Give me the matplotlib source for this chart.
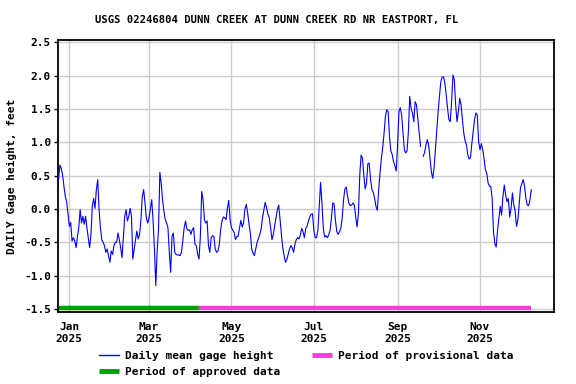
import numpy as np
import pandas as pd
import matplotlib
matplotlib.use("Agg")
import matplotlib.pyplot as plt
from matplotlib.lines import Line2D

# Daily mean gage height (feet), one value per day starting 2024-12-24
start_date = "2024-12-24"
gage_height = [
    # Dec 24 - Feb 21
    0.44, 0.66, 0.61, 0.51, 0.34, 0.19, 0.11, -0.08, -0.26, -0.20,
    -0.48, -0.43, -0.48, -0.58, -0.41, -0.28, -0.01, -0.21, -0.11, -0.23,
    -0.11, -0.28, -0.43, -0.58, -0.38, 0.04, 0.16, 0.01, 0.29, 0.44,
    -0.01, -0.28, -0.46, -0.50, -0.55, -0.65, -0.60, -0.70, -0.80, -0.63,
    -0.68, -0.55, -0.50, -0.50, -0.36, -0.46, -0.58, -0.73, -0.41, -0.11,
    -0.01, -0.18, -0.11, 0.01, -0.11, -0.75, -0.60, -0.46, -0.33, -0.45,
    # Feb 22 - Apr 21
    -0.38, -0.16, 0.19, 0.29, 0.09, -0.13, -0.21, -0.13, 0.01, 0.14,
    -0.18, -0.60, -1.15, -0.63, -0.31, 0.55, 0.39, 0.14, -0.03, -0.16,
    -0.21, -0.28, -0.65, -0.95, -0.41, -0.36, -0.65, -0.68, -0.69, -0.69,
    -0.70, -0.65, -0.48, -0.28, -0.18, -0.30, -0.32, -0.31, -0.38, -0.31,
    -0.28, -0.53, -0.55, -0.68, -0.75, -0.41, 0.26, 0.14, -0.16, -0.21,
    -0.18, -0.55, -0.65, -0.43, -0.40, -0.41, -0.60, -0.65, -0.63,
    # Apr 22 - Jun 20
    -0.53, -0.31, -0.18, -0.12, -0.13, -0.16, 0.01, 0.13, -0.16, -0.28,
    -0.32, -0.35, -0.46, -0.41, -0.41, -0.28, -0.17, -0.27, -0.21, 0.00,
    0.07, -0.06, -0.22, -0.36, -0.60, -0.66, -0.70, -0.60, -0.50, -0.44,
    -0.38, -0.30, -0.13, -0.01, 0.10, 0.02, -0.08, -0.13, -0.28, -0.46,
    -0.38, -0.25, -0.13, -0.01, 0.06, -0.16, -0.38, -0.58, -0.70, -0.80,
    -0.76, -0.68, -0.60, -0.55, -0.58, -0.65, -0.53, -0.46, -0.43, -0.45,
    # Jun 21 - Aug 19
    -0.39, -0.29, -0.34, -0.43, -0.29, -0.26, -0.18, -0.12, -0.08, -0.07,
    -0.32, -0.43, -0.43, -0.32, 0.04, 0.40, 0.09, -0.29, -0.42, -0.40,
    -0.43, -0.39, -0.32, -0.14, 0.09, 0.08, -0.17, -0.34, -0.38, -0.34,
    -0.29, -0.13, 0.14, 0.30, 0.33, 0.19, 0.08, 0.05, 0.06, 0.09,
    0.06, -0.12, -0.27, -0.07, 0.51, 0.81, 0.76, 0.51, 0.30, 0.39,
    0.68, 0.69, 0.44, 0.29, 0.25, 0.16, 0.04, -0.02, 0.29, 0.54,
    # Aug 20 - Oct 17
    0.76, 0.92, 1.14, 1.39, 1.49, 1.46, 1.09, 0.87, 0.82, 0.71,
    0.65, 0.57, 0.96, 1.46, 1.52, 1.41, 1.14, 0.89, 0.84, 0.87,
    1.16, 1.69, 1.51, 1.44, 1.31, 1.61, 1.56, 1.36, 1.14, 0.94,
    np.nan, 0.79, 0.85, 0.96, 1.04, 0.96, 0.76, 0.56, 0.46, 0.61,
    0.89, 1.16, 1.46, 1.69, 1.91, 1.98, 1.98, 1.89, 1.71, 1.51,
    1.34, 1.31, 1.61, 2.01, 1.94, 1.56, 1.31, 1.46, 1.66,
    # Oct 18 - Dec 9
    1.56, 1.34, 1.14, 1.02, 0.96, 0.81, 0.75, 0.77, 0.99, 1.16,
    1.35, 1.44, 1.41, 1.01, 0.89, 0.98, 0.89, 0.76, 0.59, 0.54,
    0.39, 0.34, 0.34, 0.16, -0.34, -0.52, -0.57, -0.32, -0.14, 0.04,
    -0.09, 0.19, 0.36, 0.21, 0.11, 0.16, -0.12, 0.01, 0.24, 0.06,
    -0.02, -0.26, -0.17, 0.06, 0.32, 0.38, 0.44, 0.34, 0.16, 0.06,
    0.05, 0.14, 0.29,
]

approved_period = ["2024-12-24", "2025-04-07"]
provisional_period = ["2025-04-07", "2025-12-09"]
period_bar_level = -1.49

month_ticks = ["2025-01-01", "2025-03-01", "2025-05-01",
               "2025-07-01", "2025-09-01", "2025-11-01"]
month_labels = ["Jan\n2025", "Mar\n2025", "May\n2025",
                "Jul\n2025", "Sep\n2025", "Nov\n2025"]
y_ticks = [2.5, 2.0, 1.5, 1.0, 0.5, 0.0, -0.5, -1.0, -1.5]

title = "USGS 02246804 DUNN CREEK AT DUNN CREEK RD NR EASTPORT, FL"

plt.rcParams["font.family"] = "DejaVu Sans Mono"
plt.rcParams["font.weight"] = "bold"
plt.rcParams["axes.unicode_minus"] = False

dates = pd.date_range(start_date, periods=len(gage_height), freq="D")

fig = plt.figure(figsize=(5.76, 3.84), dpi=100)
ax = fig.add_axes([58 / 576, 1 - 312 / 384, 496 / 576, 272 / 384])

line_col = "#0000ff"
green = "#00a000"
pink = "#f040d8"

ax.plot(dates, gage_height, color=line_col, lw=0.8, zorder=3)
ax.plot(pd.to_datetime(approved_period), [period_bar_level] * 2,
        color=green, lw=3.2, solid_capstyle="butt", zorder=4)
ax.plot(pd.to_datetime(provisional_period), [period_bar_level] * 2,
        color=pink, lw=3.2, solid_capstyle="butt", zorder=4)

jan1 = pd.Timestamp("2025-01-01")
ax.set_xlim(jan1 - pd.Timedelta(days=8.4), jan1 + pd.Timedelta(days=358.8))
ax.set_ylim(-1.545, 2.535)

ax.set_xticks(pd.to_datetime(month_ticks))
ax.set_xticklabels(month_labels, fontsize=8, fontweight="bold", linespacing=1.3)
ax.set_yticks(y_ticks)
ax.set_yticklabels([f"{v:.1f}" for v in y_ticks], fontsize=8, fontweight="bold")
ax.tick_params(axis="x", length=0, pad=7)
ax.tick_params(axis="y", length=3, width=1, pad=2)

ax.grid(True, color="#cccccc", lw=1)
ax.set_axisbelow(True)
for s in ax.spines.values():
    s.set_linewidth(1.3)

ax.set_ylabel("DAILY Gage height, feet", fontsize=8, fontweight="bold", labelpad=5)

fig.text(277 / 576, 1 - 20 / 384, title, ha="center", va="center",
         fontsize=7.6, fontweight="bold")

handles = [
    Line2D([], [], color=line_col, lw=1),
    Line2D([], [], color=green, lw=3.5, solid_capstyle="butt"),
    Line2D([], [], color=pink, lw=3.5, solid_capstyle="butt"),
]
labels = ["Daily mean gage height", "Period of approved data",
          "Period of provisional data"]
fig.legend(handles, labels, ncol=2, loc="upper left",
           bbox_to_anchor=(99 / 576, 1 - 351 / 384), frameon=False,
           prop={"size": 8, "weight": "bold"}, handlelength=1.8,
           handletextpad=0.5, columnspacing=2.9, labelspacing=0.52,
           borderaxespad=0, borderpad=0)

fig.savefig("out.png", dpi=100)
